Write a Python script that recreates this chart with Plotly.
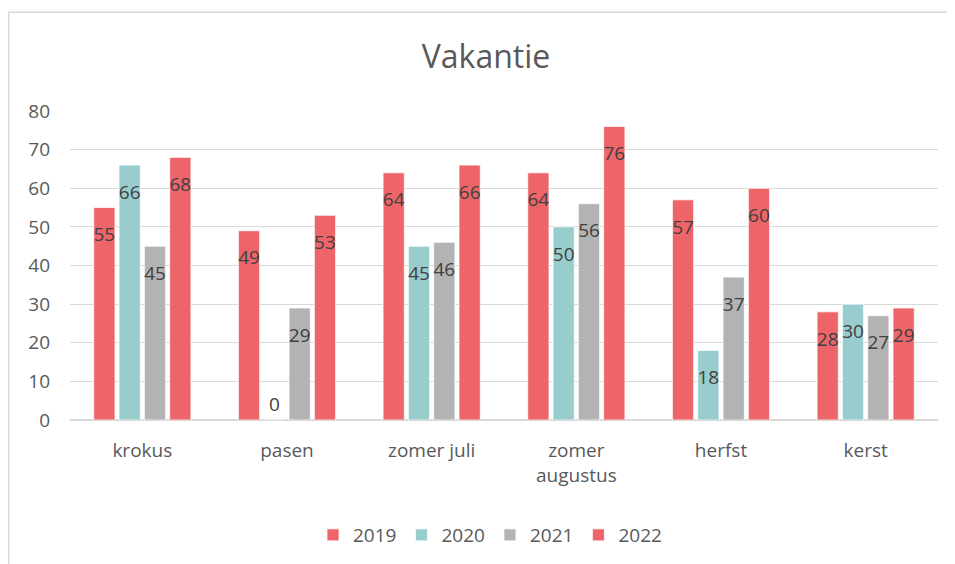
import plotly.graph_objects as go

categories = ["krokus", "pasen", "zomer juli", "zomer<br>augustus", "herfst", "kerst"]
series_names = ["2019", "2020", "2021", "2022"]
v2019 = [55, 49, 64, 64, 57, 28]
v2020 = [66, 0, 45, 50, 18, 30]
v2021 = [45, 29, 46, 56, 37, 27]
v2022 = [68, 53, 66, 76, 60, 29]
y_ticks = [0, 10, 20, 30, 40, 50, 60, 70, 80]

colors = ["#EE6569", "#99CDCD", "#B3B3B3", "#EE6569"]
FONT = "'Open Sans', sans-serif"
TXT = "#595959"

# page has an 8px body margin: figure coordinates are screen minus 8
W, H = 947, 556
L, R, T, B = 62, 17, 103, 143
PW, PH = W - L - R, H - T - B

fig = go.Figure()
spacer = "<span style='font-size:6px'>\u00a0</span><br>"
for name, vals, col in zip(series_names, [v2019, v2020, v2021, v2022], colors):
    texts = [(spacer + "%d" % v) if v > 0 else "%d" % v for v in vals]
    pos = ["inside" if v > 0 else "outside" for v in vals]
    fig.add_trace(go.Bar(
        name=name, x=categories, y=vals, text=texts, textposition=pos,
        insidetextanchor="end", cliponaxis=False,
        textfont=dict(family=FONT, size=19, color="#404040"),
        marker=dict(color=col, line=dict(color="white", width=0.75)),
        hoverinfo="x+y+name",
    ))

fig.update_layout(
    width=W, height=H,
    margin=dict(l=L, r=R, t=T, b=B),
    paper_bgcolor="white", plot_bgcolor="white",
    barmode="group", bargap=0.30, bargroupgap=0.16,
    uniformtext=dict(minsize=19, mode="show"),
    font=dict(family=FONT, color=TXT, size=19),
    title=dict(text="Vakantie", x=478 / W, xref="container", xanchor="center",
               y=1 - 49 / H, yref="container", yanchor="middle",
               font=dict(family=FONT, size=32, color=TXT)),
    showlegend=True,
    legend=dict(orientation="h", x=(482 - L) / PW, xanchor="center",
                y=(H - B - 527) / PH, yanchor="middle",
                font=dict(family=FONT, size=19, color=TXT), itemwidth=30,
                traceorder="normal"),
    xaxis=dict(showgrid=False, showline=False, ticks="", ticklabelstandoff=17,
               tickfont=dict(size=19, color=TXT)),
    yaxis=dict(range=[0, 80], tickvals=y_ticks, showgrid=True, gridcolor="#D9D9D9",
               gridwidth=1, zeroline=True, zerolinecolor="#D9D9D9", zerolinewidth=1.5,
               showline=False, ticks="", ticklabelstandoff=19,
               tickfont=dict(size=19, color=TXT)),
    shapes=[dict(type="rect", xref="paper", yref="paper",
                 x0=(0.75 - L) / PW, x1=(1000 - L) / PW,
                 y0=(H - B - 600) / PH, y1=(H - B - 4) / PH,
                 line=dict(color="#D9D9D9", width=1.5), layer="below")],
)

fig.write_html("out.html")
